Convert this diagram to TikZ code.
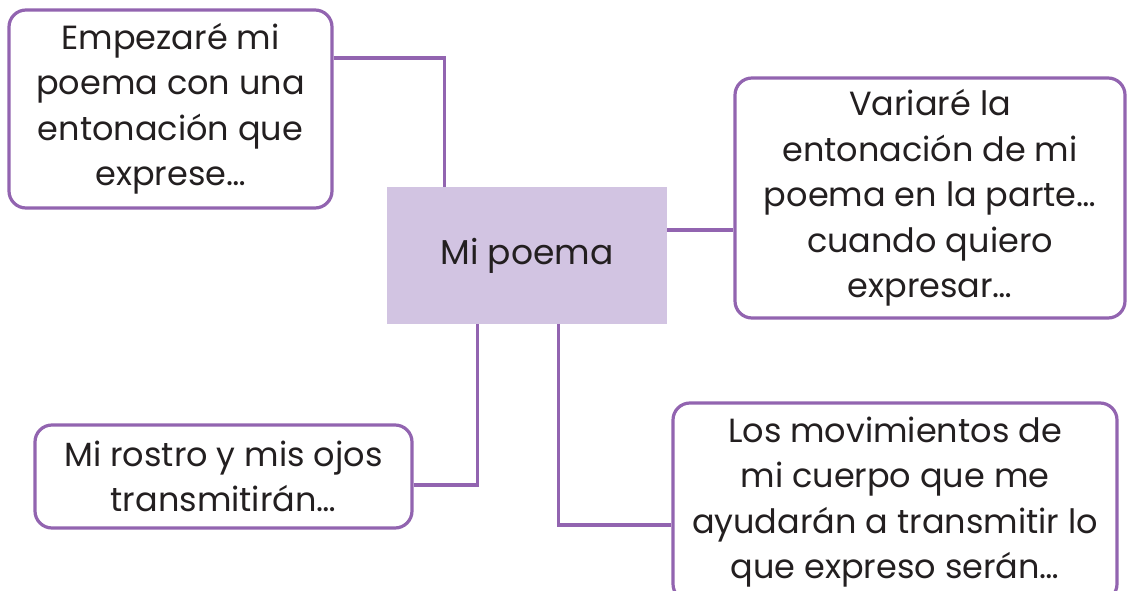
\documentclass[tikz,border=0pt]{standalone}
\usepackage{fontspec}
\setmainfont{Poppins}
\definecolor{linepurple}{HTML}{9264B0}
\definecolor{centerfill}{HTML}{D2C4E2}
\definecolor{textdark}{HTML}{231F20}
\begin{document}
\begin{tikzpicture}[x=1pt,y=-1pt,
  ideabox/.style={draw=linepurple, line width=3.2pt, rounded corners=17pt, fill=white,
    align=center, text=textdark, inner sep=0pt,
    font=\fontsize{33.5}{45.5}\selectfont},
  centerbox/.style={fill=centerfill, text=textdark, inner sep=0pt,
    font=\fontsize{34.5}{45}\selectfont},
  link/.style={draw=linepurple, line width=3.2pt}]
\clip (0,0) rectangle (1127,591);
\fill[white] (0,0) rectangle (1127,591);
\node[centerbox, minimum width=280pt, minimum height=137pt] (c) at (527,255.5) {Mi poema};
\node[ideabox, minimum width=323pt, minimum height=198pt] (b1) at (170.5,109)
  {Empezaré mi\\poema con una\\entonación que\\exprese…};
\node[ideabox, minimum width=390pt, minimum height=240pt] (r) at (930,198)
  {Variaré la\\entonación de mi\\poema en la parte…\\cuando quiero\\expresar…};
\node[ideabox, minimum width=377pt, minimum height=103pt] (bl) at (223.5,476.5)
  {Mi rostro y mis ojos\\transmitirán…};
\node[ideabox, minimum width=444pt, minimum height=198pt] (br) at (895,502)
  {Los movimientos de\\mi cuerpo que me\\ayudarán a transmitir lo\\que expreso serán…};
\draw[link] ([yshift=51pt]b1.east) -| ([xshift=58pt]c.north west);
\draw[link] ([yshift=25.5pt]c.east) -- ([yshift=25.5pt]c.east -| r.west);
\draw[link] ([yshift=-8.5pt]bl.east) -| ([xshift=91pt]c.south west);
\draw[link] ([xshift=172pt]c.south west) |- ([yshift=-23pt]br.west);
\end{tikzpicture}
\end{document}
